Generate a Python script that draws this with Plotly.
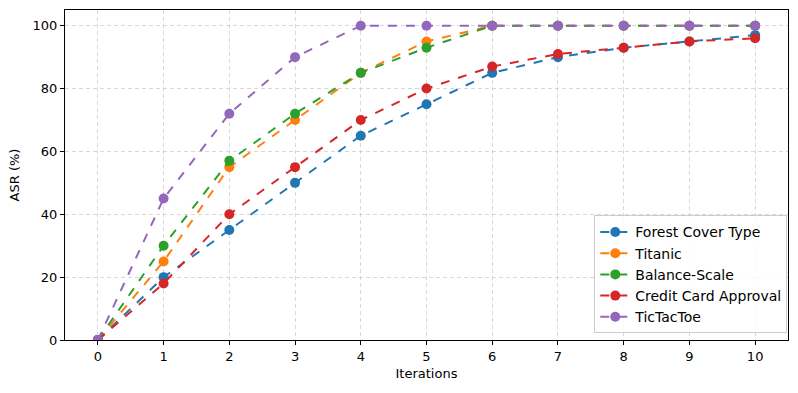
import plotly.graph_objects as go

iterations = list(range(11))
forest = [0, 20, 35, 50, 65, 75, 85, 90, 93, 95, 97]
titanic = [0, 25, 55, 70, 85, 95, 100, 100, 100, 100, 100]
balance = [0, 30, 57, 72, 85, 93, 100, 100, 100, 100, 100]
credit = [0, 18, 40, 55, 70, 80, 87, 91, 93, 95, 96]
tictactoe = [0, 45, 72, 90, 100, 100, 100, 100, 100, 100, 100]

series = [
    ('Forest Cover Type', forest, '#1f77b4'),
    ('Titanic', titanic, '#ff7f0e'),
    ('Balance-Scale', balance, '#2ca02c'),
    ('Credit Card Approval', credit, '#d62728'),
    ('TicTacToe', tictactoe, '#9467bd'),
]

fig = go.Figure()
for name, vals, color in series:
    fig.add_trace(go.Scatter(
        x=iterations, y=vals, name=name, mode='lines+markers',
        line=dict(color=color, width=2, dash='dash'),
        marker=dict(size=10, color=color),
    ))

axis_style = dict(showline=True, mirror=True, linecolor='black', linewidth=1,
                  ticks='outside', ticklen=4, tickcolor='black',
                  showgrid=True, gridcolor='rgba(190,190,190,0.6)', griddash='4px,3px',
                  zeroline=False, tickfont=dict(size=13, color='black'))

fig.update_layout(
    width=798, height=393, showlegend=True,
    margin=dict(l=65, r=10, t=10, b=53),
    plot_bgcolor='white', paper_bgcolor='white',
    font=dict(family='DejaVu Sans', size=13, color='black'),
    xaxis=dict(range=[-0.5, 10.5], tickvals=iterations,
               title=dict(text='Iterations', font=dict(size=13), standoff=6), **axis_style),
    yaxis=dict(range=[0, 105], tickvals=[0, 20, 40, 60, 80, 100],
               title=dict(text='ASR (%)', font=dict(size=13), standoff=10), **axis_style),
    legend=dict(x=0.999, y=0.02, xanchor='right', yanchor='bottom',
                bgcolor='rgba(255,255,255,0.85)', bordercolor='#cccccc', borderwidth=1,
                font=dict(size=14), tracegroupgap=0, itemwidth=30),
)

fig.write_html("out.html", post_script="document.body.style.margin='0';",
               config={'displayModeBar': False})
